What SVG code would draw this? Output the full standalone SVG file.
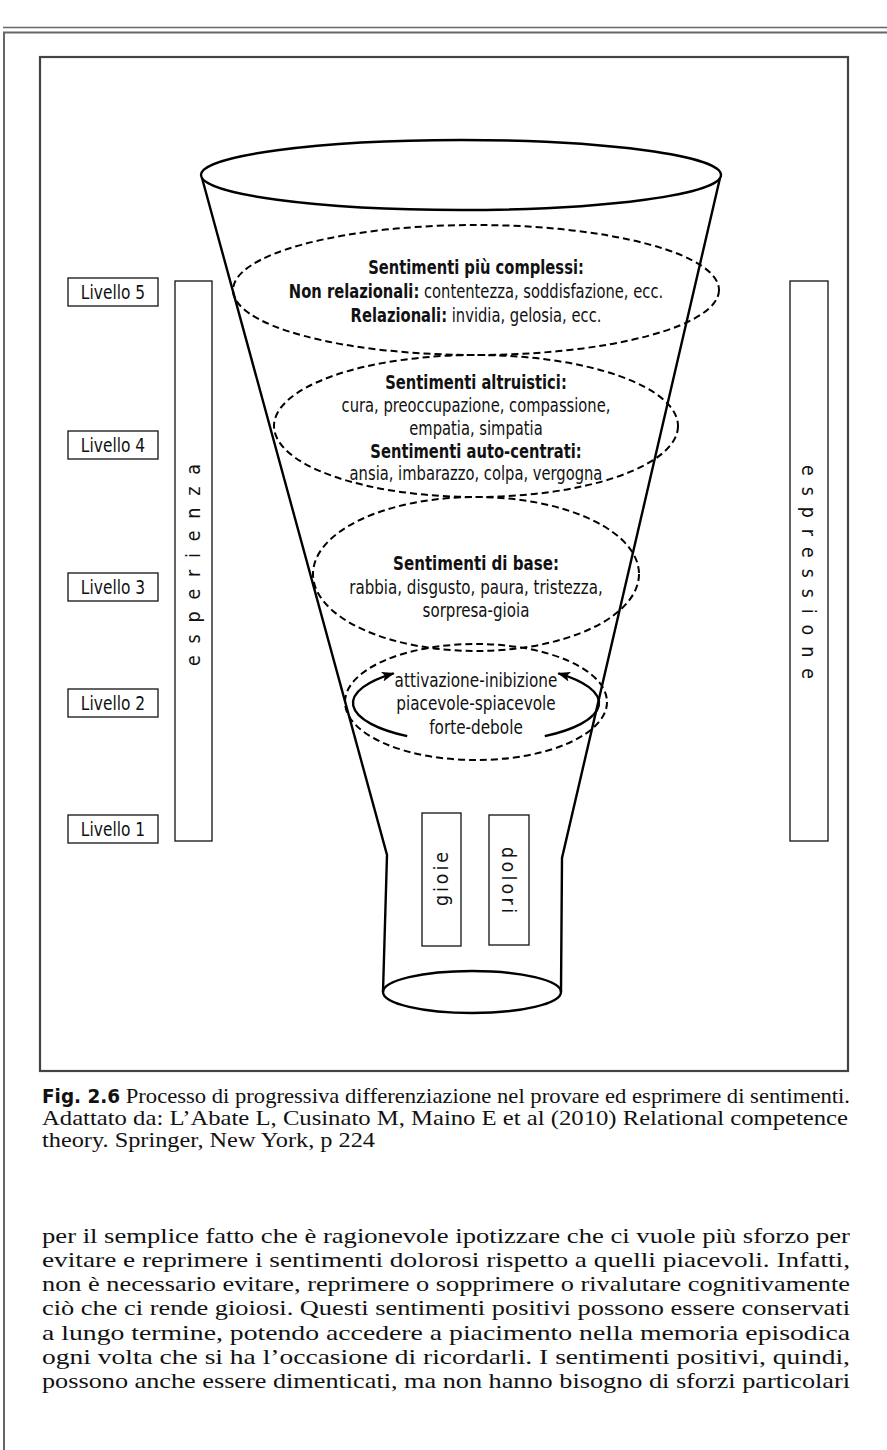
<svg xmlns="http://www.w3.org/2000/svg" width="887" height="1450" viewBox="0 0 887 1450">
  <style>
    .sans { font-family: "Liberation Sans Narrow", "DejaVu Sans Condensed", "Liberation Sans", sans-serif; font-size: 19.5px; fill: #111; }
    .b { font-weight: bold; }
    .mid { text-anchor: middle; }
    .serif { font-family: "Liberation Serif", "Times New Roman", serif; font-size: 22px; fill: #111; }
    .cap { font-size: 21px; }
    .box { fill: #fff; stroke: #111; stroke-width: 1.3; }
    .solid { fill: none; stroke: #000; stroke-width: 2.4; }
    .dash { fill: none; stroke: #000; stroke-width: 2; stroke-dasharray: 7 4; }
    .rule { stroke: #666; fill: none; }
  </style>
  <defs>
    <marker id="head" viewBox="0 0 13 10" refX="12" refY="5" markerWidth="13" markerHeight="10" markerUnits="userSpaceOnUse" orient="auto">
      <path d="M0,0 L13,5 L0,10 L3,5 Z" fill="#000"/>
    </marker>
  </defs>

  <rect width="887" height="1450" fill="#fff"/>

  <!-- page rules -->
  <g id="page-rules">
    <line class="rule" x1="3" y1="27.5" x2="887" y2="27.5" stroke-width="1.5"/>
    <line class="rule" x1="3" y1="32.5" x2="887" y2="32.5" stroke-width="2"/>
    <line class="rule" x1="4" y1="32" x2="4" y2="1450" stroke-width="2"/>
  </g>

  <!-- figure frame -->
  <rect id="frame" x="40" y="57" width="808" height="1014" fill="none" stroke="#444" stroke-width="2.2"/>

  <!-- level labels (text narrowed around x=113) -->
  <g id="level-5"><rect class="box" x="68" y="278" width="90" height="28"/><text class="sans mid" transform="matrix(0.88 0 0 1 13.56 0)" x="113" y="299">Livello 5</text></g>
  <g id="level-4"><rect class="box" x="68" y="431" width="90" height="28"/><text class="sans mid" transform="matrix(0.88 0 0 1 13.56 0)" x="113" y="452">Livello 4</text></g>
  <g id="level-3"><rect class="box" x="68" y="573" width="90" height="28"/><text class="sans mid" transform="matrix(0.88 0 0 1 13.56 0)" x="113" y="594">Livello 3</text></g>
  <g id="level-2"><rect class="box" x="68" y="689" width="90" height="28"/><text class="sans mid" transform="matrix(0.88 0 0 1 13.56 0)" x="113" y="710">Livello 2</text></g>
  <g id="level-1"><rect class="box" x="68" y="815" width="90" height="28"/><text class="sans mid" transform="matrix(0.88 0 0 1 13.56 0)" x="113" y="836">Livello 1</text></g>

  <!-- side bars -->
  <g id="bar-esperienza">
    <rect class="box" x="175" y="281" width="37" height="560"/>
    <text class="sans mid" transform="translate(200,565) rotate(-90)" x="0" y="0" textLength="202" lengthAdjust="spacing">e s p e r i e n z a</text>
  </g>
  <g id="bar-espressione">
    <rect class="box" x="790" y="281" width="38" height="560"/>
    <text class="sans mid" transform="translate(802,572) rotate(90)" x="0" y="0" textLength="214" lengthAdjust="spacing">e s p r e s s i o n e</text>
  </g>

  <!-- funnel body -->
  <g id="funnel">
    <ellipse class="solid" cx="461" cy="175" rx="260" ry="35"/>
    <polyline class="solid" points="202,178 387,855 383,992"/>
    <polyline class="solid" points="720,178 562,858 561,992"/>
    <ellipse class="solid" cx="472" cy="992" rx="89" ry="21"/>
  </g>

  <!-- level 5 -->
  <g id="feelings-complex">
    <ellipse class="dash" cx="476" cy="290" rx="243" ry="65"/>
    <g transform="matrix(0.84 0 0 1 76.16 0)">
      <text class="sans mid b" x="476" y="274">Sentimenti più complessi:</text>
      <text class="sans mid" x="476" y="298"><tspan class="b">Non relazionali:</tspan> contentezza, soddisfazione, ecc.</text>
      <text class="sans mid" x="476" y="322"><tspan class="b">Relazionali:</tspan> invidia, gelosia, ecc.</text>
    </g>
  </g>

  <!-- level 4 -->
  <g id="feelings-altruistic">
    <ellipse class="dash" cx="476" cy="426" rx="202" ry="71"/>
    <g transform="matrix(0.84 0 0 1 76.16 0)">
      <text class="sans mid b" x="476" y="389">Sentimenti altruistici:</text>
      <text class="sans mid" x="476" y="412">cura, preoccupazione, compassione,</text>
      <text class="sans mid" x="476" y="435">empatia, simpatia</text>
      <text class="sans mid b" x="476" y="458">Sentimenti auto-centrati:</text>
      <text class="sans mid" x="476" y="480">ansia, imbarazzo, colpa, vergogna</text>
    </g>
  </g>

  <!-- level 3 -->
  <g id="feelings-basic">
    <ellipse class="dash" cx="476" cy="574" rx="163" ry="77"/>
    <g transform="matrix(0.86 0 0 1 66.64 0)">
      <text class="sans mid b" x="476" y="570">Sentimenti di base:</text>
      <text class="sans mid" x="476" y="594">rabbia, disgusto, paura, tristezza,</text>
      <text class="sans mid" x="476" y="617">sorpresa-gioia</text>
    </g>
  </g>

  <!-- level 2 -->
  <g id="dimensions">
    <ellipse class="dash" cx="476" cy="702" rx="131" ry="58"/>
    <g transform="matrix(0.87 0 0 1 61.88 0)">
      <text class="sans mid" x="476" y="687">attivazione-inibizione</text>
      <text class="sans mid" x="476" y="710">piacevole-spiacevole</text>
      <text class="sans mid" x="476" y="734">forte-debole</text>
    </g>
  </g>

  <!-- level 1 -->
  <g id="joys">
    <rect class="box" x="422" y="813" width="39" height="133"/>
    <text class="sans mid" transform="translate(448,879) rotate(-90)" x="0" y="0" textLength="54" lengthAdjust="spacing">gioie</text>
  </g>
  <g id="pains">
    <rect class="box" x="489" y="815" width="40" height="130"/>
    <text class="sans mid" transform="translate(502,880) rotate(90)" x="0" y="0" textLength="66" lengthAdjust="spacing">dolori</text>
  </g>

  <!-- circular arrows -->
  <g id="connectors">
    <path class="solid" d="M407.2,736.2 A123 40 0 0 1 393.7,673.3" marker-end="url(#head)" stroke-width="2.2"/>
    <path class="solid" d="M544.8,736.2 A123 40 0 0 0 558.3,673.3" marker-end="url(#head)" stroke-width="2.2"/>
  </g>

  <!-- caption -->
  <g id="caption">
    <text class="serif cap" x="42" y="1103" textLength="808" lengthAdjust="spacingAndGlyphs"><tspan class="sans b" style="font-size:19px">Fig. 2.6</tspan> Processo di progressiva differenziazione nel provare ed esprimere di sentimenti.</text>
    <text class="serif cap" x="42" y="1125" textLength="806" lengthAdjust="spacingAndGlyphs">Adattato da: L’Abate L, Cusinato M, Maino E et al (2010) Relational competence</text>
    <text class="serif cap" x="42" y="1147" textLength="333" lengthAdjust="spacingAndGlyphs">theory. Springer, New York, p 224</text>
  </g>

  <!-- body text -->
  <g id="body-text">
    <text class="serif" x="42" y="1243" textLength="808" lengthAdjust="spacingAndGlyphs">per il semplice fatto che è ragionevole ipotizzare che ci vuole più sforzo per</text>
    <text class="serif" x="42" y="1267" textLength="808" lengthAdjust="spacingAndGlyphs">evitare e reprimere i sentimenti dolorosi rispetto a quelli piacevoli. Infatti,</text>
    <text class="serif" x="42" y="1291" textLength="808" lengthAdjust="spacingAndGlyphs">non è necessario evitare, reprimere o sopprimere o rivalutare cognitivamente</text>
    <text class="serif" x="42" y="1315" textLength="808" lengthAdjust="spacingAndGlyphs">ciò che ci rende gioiosi. Questi sentimenti positivi possono essere conservati</text>
    <text class="serif" x="42" y="1340" textLength="808" lengthAdjust="spacingAndGlyphs">a lungo termine, potendo accedere a piacimento nella memoria episodica</text>
    <text class="serif" x="42" y="1364" textLength="808" lengthAdjust="spacingAndGlyphs">ogni volta che si ha l’occasione di ricordarli. I sentimenti positivi, quindi,</text>
    <text class="serif" x="42" y="1388" textLength="808" lengthAdjust="spacingAndGlyphs">possono anche essere dimenticati, ma non hanno bisogno di sforzi particolari</text>
  </g>
</svg>
